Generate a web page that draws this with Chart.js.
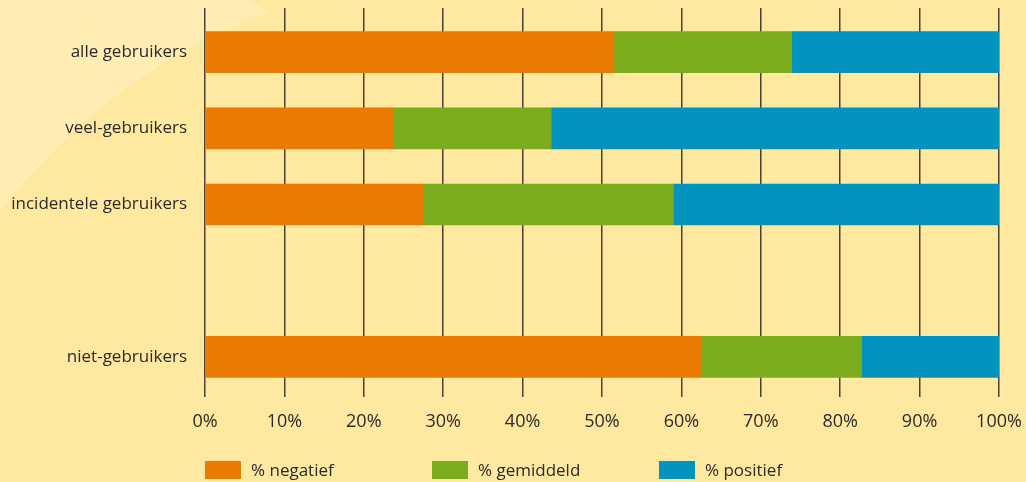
<!DOCTYPE html>
<html>
<head>
<meta charset="utf-8">
<script src="https://cdn.jsdelivr.net/npm/chart.js@4"></script>
<style>
  html, body { margin: 0; padding: 0; background: #ffe8a0; }
  #wrap { position: relative; width: 1026px; height: 482px; }
  #legend { position: absolute; left: 205px; top: 458px; display: flex;
            font-family: "Open Sans", sans-serif; font-size: 17px; color: #2b2b2b; }
  #legend .item { width: 227px; display: flex; align-items: center; }
  #legend .box { width: 36px; height: 18px; margin-right: 10px; }
</style>
</head>
<body>
<div id="wrap">
  <canvas id="out" width="1026" height="482"></canvas>
  <div id="legend"></div>
</div>
<script>
// groepen (lege rij geeft de witruimte boven niet-gebruikers)
const categories = ["alle gebruikers", "veel-gebruikers", "incidentele gebruikers", "", "niet-gebruikers"];
const negatief  = [51.5, 23.7, 27.5, null, 62.5];
const gemiddeld = [22.4, 19.9, 31.5, null, 20.2];
const positief  = [26.1, 56.4, 41.0, null, 17.3];
const seriesNames = ["% negatief", "% gemiddeld", "% positief"];
const colors = ["#ea7a02", "#7aac1e", "#0293bf"];
const tickValues = [0, 10, 20, 30, 40, 50, 60, 70, 80, 90, 100];

const textColor = "#2b2b2b";
const gridColor = "#4a4232";

// lichte vlak linksboven
const backdrop = {
  id: "backdrop",
  beforeDraw(chart) {
    const c = chart.ctx;
    c.save();
    c.fillStyle = "#ffe8a0";
    c.fillRect(0, 0, chart.width, chart.height);
    c.fillStyle = "#ffedb4";
    c.beginPath();
    c.moveTo(0, 0);
    c.lineTo(247, 0);
    c.lineTo(270, 12);
    c.quadraticCurveTo(110, 70, 0, 212);
    c.closePath();
    c.fill();
    c.restore();
  }
};

// vaste maten, zonder extra randruimte van de schalen
const fixX = h => s => { s.height = h; s.paddingLeft = 0; s.paddingRight = 0; };

const ctx = document.getElementById("out").getContext("2d");
const chart = new Chart(ctx, {
  type: "bar",
  data: {
    labels: categories,
    datasets: [negatief, gemiddeld, positief].map((d, i) => ({
      label: seriesNames[i],
      data: d,
      backgroundColor: colors[i],
      borderWidth: 0,
      barThickness: 41
    }))
  },
  options: {
    indexAxis: "y",
    responsive: false,
    animation: false,
    layout: { padding: { top: 8, right: 27, bottom: 47, left: 0 } },
    plugins: { legend: { display: false }, tooltip: { enabled: false } },
    scales: {
      x: {
        stacked: true, min: 0, max: 100,
        afterBuildTicks: s => { s.ticks = tickValues.map(v => ({ value: v })); },
        afterFit: fixX(40),
        grid: { color: gridColor, lineWidth: 1.5, tickLength: 2 },
        border: { display: false },
        ticks: { color: textColor, padding: 14, maxRotation: 0, font: { family: "Open Sans", size: 18 },
                 callback: v => v + "%" }
      },
      x2: {
        position: "top", min: 0, max: 100,
        afterBuildTicks: s => { s.ticks = tickValues.map(v => ({ value: v })); },
        afterFit: fixX(6),
        grid: { color: gridColor, lineWidth: 1.5, tickLength: 6, drawOnChartArea: false },
        border: { display: false },
        ticks: { display: false }
      },
      y: {
        stacked: true,
        afterFit: s => { s.width = 205; s.paddingTop = 0; s.paddingBottom = 0; },
        grid: { display: false, tickLength: 0 },
        border: { display: false },
        ticks: { color: textColor, padding: 18, font: { family: "Open Sans", size: 17 } }
      }
    }
  },
  plugins: [backdrop]
});

// legenda
const legend = document.getElementById("legend");
seriesNames.forEach((name, i) => {
  const item = document.createElement("div");
  item.className = "item";
  item.innerHTML = '<span class="box" style="background:' + colors[i] + '"></span><span>' + name + '</span>';
  legend.appendChild(item);
});
</script>
</body>
</html>
